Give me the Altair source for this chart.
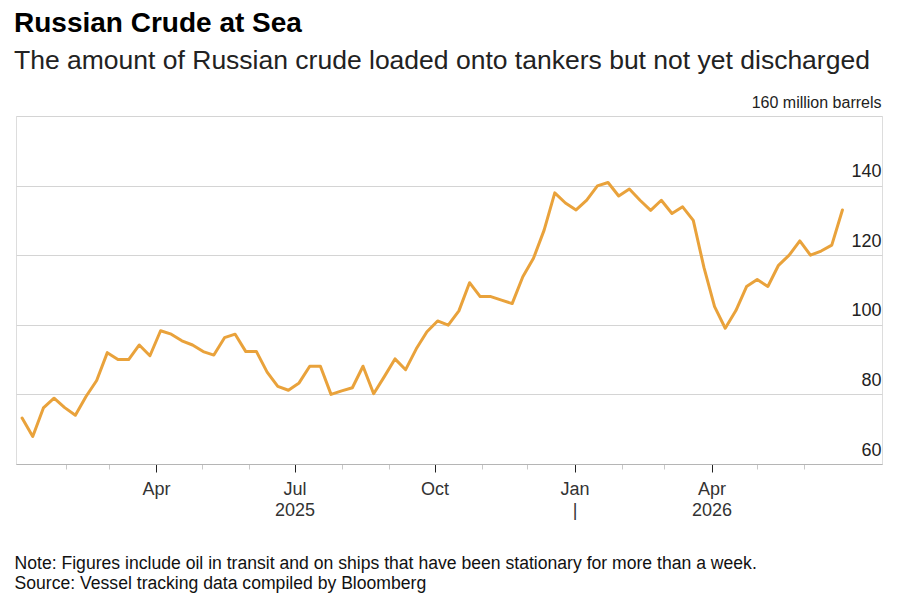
import altair as alt
import pandas as pd

# ---- data (million barrels, weekly) ----
start_date = "2025-01-03"
crude_at_sea = [
    73.2, 67.9, 76.1, 78.9, 76.2, 74.0, 79.4, 84.0, 92.0, 90.0,
    90.0, 94.2, 91.1, 98.3, 97.3, 95.4, 94.2, 92.3, 91.3, 96.3,
    97.3, 92.3, 92.3, 86.4, 82.3, 81.2, 83.3, 88.1, 88.1, 80.0,
    81.0, 81.9, 88.1, 80.2, 85.1, 90.2, 87.1, 93.1, 98.0, 101.1,
    99.9, 104.0, 112.1, 108.1, 108.1, 107.1, 106.1, 113.8, 119.1, 127.2,
    137.9, 135.0, 133.0, 135.8, 139.9, 140.9, 137.0, 139.0, 135.8, 132.9,
    135.8, 132.0, 133.9, 130.0, 116.5, 105.2, 99.0, 104.1, 111.0, 113.0,
    111.0, 117.1, 120.0, 124.1, 120.0, 121.2, 122.9, 133.0,
]
dates = pd.date_range(start_date, periods=len(crude_at_sea), freq="7D").strftime("%Y-%m-%d").tolist()

y_ticks = [60, 80, 100, 120, 140, 160]
top_label = "160 million barrels"
month_ticks = [
    "2025-02-01", "2025-03-01", "2025-04-01", "2025-05-01", "2025-06-01",
    "2025-07-01", "2025-08-01", "2025-09-01", "2025-10-01", "2025-11-01",
    "2025-12-01", "2026-01-01", "2026-02-01", "2026-03-01", "2026-04-01",
    "2026-05-01", "2026-06-01",
]
second_line = {"2025-07-01": "2025", "2026-01-01": "|", "2026-04-01": "2026"}
x_domain = ["2024-12-30", "2026-07-22"]

title = "Russian Crude at Sea"
subtitle = "The amount of Russian crude loaded onto tankers but not yet discharged"
notes = [
    "Note: Figures include oil in transit and on ships that have been stationary for more than a week.",
    "Source: Vessel tracking data compiled by Bloomberg",
]

FONT = "Liberation Sans"

df = pd.DataFrame({"date": dates, "value": crude_at_sea})


def dt(s):
    y, m, d = (int(p) for p in s.split("-"))
    return alt.DateTime(year=y, month=m, date=d, utc=True)


# label expression: quarter months only, some with a second line
parts = []
for k, v in second_line.items():
    y, m, _ = (int(p) for p in k.split("-"))
    parts.append(
        f"(utcyear(datum.value) == {y} && utcmonth(datum.value) == {m - 1}) ? "
        f"[utcFormat(datum.value, '%b'), '{v}'] : "
    )
label_expr = (
    "utcmonth(datum.value) % 3 != 0 ? '' : "
    + "".join(parts)
    + "utcFormat(datum.value, '%b')"
)
major_test = "utcmonth(datum.value) % 3 == 0"

x_axis = alt.Axis(
    values=[dt(s) for s in month_ticks],
    labelExpr=label_expr,
    labelOverlap=False,
    labelFlush=False,
    labelFont=FONT,
    labelFontSize=18,
    labelColor="#333333",
    labelLineHeight=21,
    labelPadding=8,
    labelBaseline="top",
    grid=False,
    domain=True,
    domainColor="#b5b5b5",
    domainWidth=1,
    ticks=True,
    tickSize={"condition": {"test": major_test, "value": 8}, "value": 5},
    tickColor={"condition": {"test": major_test, "value": "#222222"}, "value": "#c8c8c8"},
    tickWidth=1,
    title=notes,
    titleFont=FONT,
    titleFontSize=17.6,
    titleFontWeight="normal",
    titleColor="#111111",
    titleAnchor="start",
    titleAlign="left",
    titleBaseline="alphabetic",
    titleLineHeight=20,
    titleX=-2,
    titleY=104,
)

y_expr = f"datum.value == {y_ticks[-1]} ? '{top_label}' : datum.label"
top_test = f"datum.value == {y_ticks[-1]}"

y_axis = alt.Axis(
    orient="right",
    values=y_ticks,
    labelExpr=y_expr,
    grid=True,
    gridColor="#d4d4d4",
    gridWidth=1,
    domain=False,
    ticks=False,
    labelAlign="right",
    labelBaseline="alphabetic",
    labelPadding=-1,
    labelOffset=-9,
    labelFont=FONT,
    labelFontSize={"condition": {"test": top_test, "value": 16}, "value": 18},
    labelColor="#222222",
    title=None,
)

chart = (
    alt.Chart(df)
    .mark_line(color="#E9A23B", strokeWidth=3, strokeJoin="round", strokeCap="round")
    .encode(
        x=alt.X("date:T", scale=alt.Scale(type="utc", domain=[dt(s) for s in x_domain]), axis=x_axis),
        y=alt.Y("value:Q", scale=alt.Scale(domain=[y_ticks[0], y_ticks[-1]], nice=False, zero=False), axis=y_axis),
    )
    .properties(
        width=866,
        height=348,
        autosize=alt.AutoSizeParams(type="none"),
        padding={"left": 16, "top": 116, "right": 18, "bottom": 133},
        title=alt.TitleParams(
            text=title,
            subtitle=subtitle,
            anchor="start",
            frame="group",
            font=FONT,
            fontSize=28,
            fontWeight="bold",
            color="#000000",
            subtitleFont=FONT,
            subtitleFontSize=26.5,
            subtitleColor="#222222",
            subtitlePadding=10,
            offset=20,
            dx=-2,
        ),
    )
    .configure_view(stroke=None)
    .configure(background="white")
)

chart.save("out.html", embed_options={"renderer": "svg", "actions": False})
